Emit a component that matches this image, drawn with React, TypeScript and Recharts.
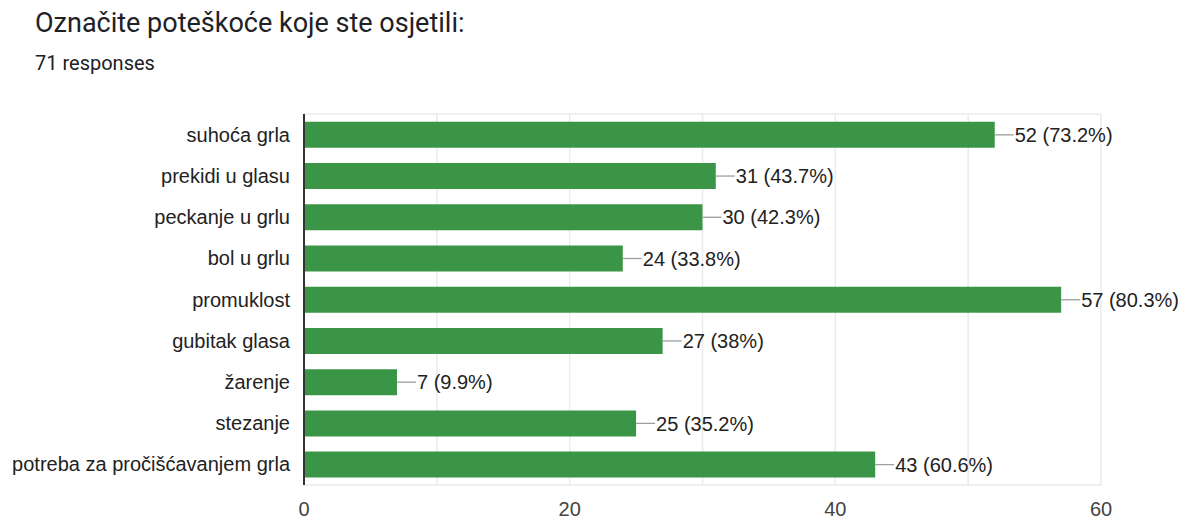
import React from 'react';
import { BarChart, Bar, XAxis, YAxis, CartesianGrid, LabelList } from 'recharts';

const categories = [
  'suhoća grla',
  'prekidi u glasu',
  'peckanje u grlu',
  'bol u grlu',
  'promuklost',
  'gubitak glasa',
  'žarenje',
  'stezanje',
  'potreba za pročišćavanjem grla',
];
const counts = [52, 31, 30, 24, 57, 27, 7, 25, 43];
const percents = ['73.2%', '43.7%', '42.3%', '33.8%', '80.3%', '38%', '9.9%', '35.2%', '60.6%'];
const xTicks = [0, 20, 40, 60];
const gridTicks = [0, 10, 20, 30, 40, 50, 60];
const X_MAX = 60;

const data = categories.map((name, i) => ({ name, count: counts[i], pct: percents[i] }));

const FONT = '"Liberation Sans", Arial, sans-serif';

const ValueLabel = (props: any) => {
  const { x, y, width, height, index } = props;
  const endX = x + width;
  const cy = y + height / 2;
  return (
    <g>
      <line x1={endX} y1={cy} x2={endX + 19} y2={cy} stroke="#9e9e9e" strokeWidth={1.3} />
      <text x={endX + 20} y={cy} dy="0.36em" fontSize={20} fill="#222" fontFamily={FONT}>
        {`${counts[index]} (${percents[index]})`}
      </text>
    </g>
  );
};

const vGrid = ({ xAxis, offset }: any) =>
  gridTicks.map((v) =>
    xAxis && typeof xAxis.scale === 'function' ? xAxis.scale(v) : offset.left + (v / X_MAX) * offset.width
  );

const hGrid = ({ offset }: any) => [offset.top, offset.top + offset.height];

export default function App() {
  return (
    <div style={{ position: 'absolute', left: 0, top: 0, width: 1180, height: 517, background: '#fff' }}>
      <div
        style={{
          position: 'absolute',
          left: 35,
          top: 7,
          fontFamily: 'Roboto, sans-serif',
          fontSize: 27,
          color: '#202124',
          whiteSpace: 'nowrap',
        }}
      >
        Označite poteškoće koje ste osjetili:
      </div>
      <div
        style={{
          position: 'absolute',
          left: 35,
          top: 51,
          fontFamily: 'Roboto, sans-serif',
          fontSize: 20,
          color: '#202124',
          whiteSpace: 'nowrap',
        }}
      >
        71 responses
      </div>
      <div style={{ position: 'absolute', left: 0, top: 0 }}>
        <BarChart
          width={1180}
          height={517}
          data={data}
          layout="vertical"
          margin={{ top: 114, right: 79, bottom: 0, left: 0 }}
          barCategoryGap="19%"
        >
          <CartesianGrid
            stroke="#ebebeb"
            strokeWidth={1.5}
            verticalCoordinatesGenerator={vGrid}
            horizontalCoordinatesGenerator={hGrid}
          />
          <XAxis
            type="number"
            domain={[0, X_MAX]}
            ticks={xTicks}
            height={32}
            axisLine={false}
            tickLine={false}
            tickSize={0}
            tickMargin={17}
            tick={{ fontSize: 20, fill: '#444', fontFamily: FONT }}
          />
          <YAxis
            type="category"
            dataKey="name"
            width={304}
            axisLine={{ stroke: '#333', strokeWidth: 2 }}
            tickLine={false}
            tickSize={0}
            tickMargin={14}
            interval={0}
            tick={{ fontSize: 20, fill: '#222', fontFamily: FONT }}
          />
          <Bar dataKey="count" fill="#3a9646" isAnimationActive={false}>
            <LabelList dataKey="count" content={<ValueLabel />} />
          </Bar>
        </BarChart>
      </div>
    </div>
  );
}
